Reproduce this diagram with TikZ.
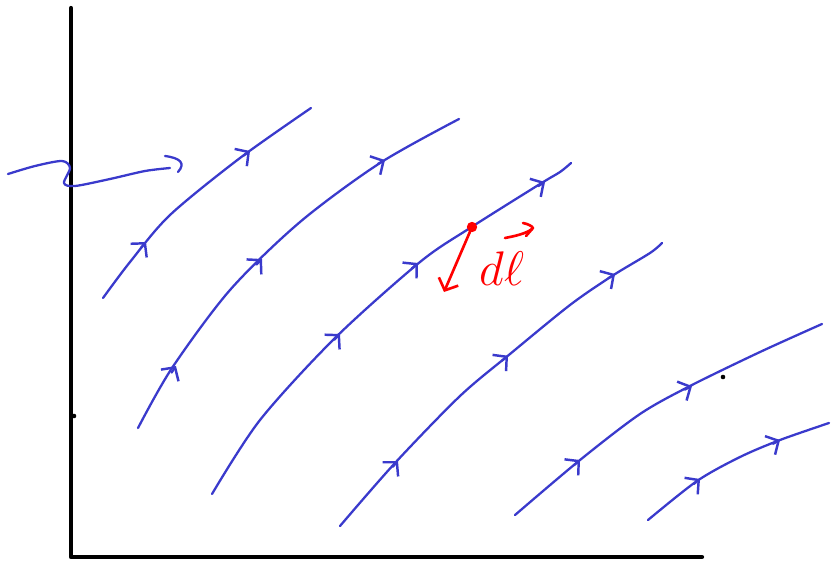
\documentclass[tikz,border=0pt]{standalone}
\usepackage{amssymb,amsmath}
\usetikzlibrary{arrows.meta,positioning}
\definecolor{flowblue}{RGB}{58,58,204}

\begin{document}
\begin{tikzpicture}[x=0.02cm,y=-0.02cm,line cap=round,line join=round,
		>={Straight Barb[length=5.5pt,width=12pt,line width=1.4pt]},
		axis/.style={line width=2.4pt,black},
		flow/.style={draw=flowblue,line width=1.3pt},
		dl/.style={draw=red,line width=1.5pt}]
		\useasboundingbox (0,0) rectangle (831,561);
		\coordinate (o) at (71,557);
		\coordinate (y_top) at (71,8);
		\coordinate (x_end) at (702,557);
		\draw[axis] (y_top) -- (o) -- (x_end);
		\fill (74,416) circle (1.3pt);
		\fill (723,377) circle (1.3pt);

		\draw[flow] plot[smooth] coordinates {(8,174) (35,166) (62,161) (70,168) (64,183) (75,186) (110,179) (145,171) (170,168)};
		\draw[flow] (165,156) .. controls (180,158) and (186,163) .. (178,172);

		\draw[flow] plot[smooth] coordinates {(103,298) (130,262) (170,215) (240,158) (311,108)};
		\draw[flow] plot[smooth] coordinates {(138,428) (172,368) (230,290) (300,222) (380,163) (459,119)};
		\draw[flow] plot[smooth] coordinates {(212,494) (260,420) (335,338) (420,262) (470,228) (540,184) (560,172) (571,163)};
		\draw[flow] plot[smooth] coordinates {(340,526) (395,463) (460,396) (510,354) (570,305) (612,276) (650,253) (662,243)};
		\draw[flow] plot[smooth] coordinates {(515,515) (580,460) (640,414) (690,386) (760,352) (822,324)};
		\draw[flow] plot[smooth] coordinates {(648,520) (697,481) (740,457) (780,440) (829,423)};

		% arrow marks along the lines
		\foreach \bx/\by/\tx/\ty in {140.8/248.1/146/242, 243.5/155.6/250/151,
				171.6/372.6/176/366, 256.3/264.6/262/259, 378/163.9/385/160,
				334.4/339.7/340/334, 412/268.3/418/263, 538.2/186.1/545/182,
				392.6/466.9/398/461, 501.9/360.8/508/355.7, 608.2/278.3/615/274,
				573.9/465.2/580/460, 684.8/389.6/692/386,
				693.6/484.1/700/479, 773/443.8/780/440}
			\draw[flow,->] (\bx,\by) -- (\tx,\ty);

		\node[circle,draw=red,fill=red,line width=1pt,inner sep=1.7pt] (p) at (472,227) {};
		\coordinate (p_dir) at (444,292);
		\draw[dl,->,>={Straight Barb[length=5.5pt,width=12pt,line width=1.5pt]}] (p) -- (p_dir);
		\node[text=red,inner sep=0pt] (lbl) at (502,269) {\scalebox{1.6}{\LARGE$d\ell$}};
		\draw[dl] (505,238) .. controls (515,236) and (525,234) .. (532,229);
		\draw[dl] (523,223) .. controls (528,224) and (532,226) .. (533,228) -- (526,236);
	\end{tikzpicture}
\end{document}
